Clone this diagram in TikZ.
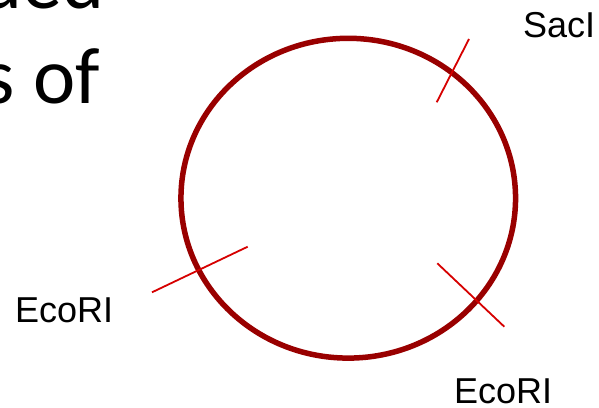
\documentclass[tikz,border=0pt]{standalone}
\usepackage{fontspec}
\setmainfont{Liberation Sans}
\newfontfamily\titlefont{Carlito}
\definecolor{ringred}{RGB}{153,0,0}
\definecolor{cutred}{RGB}{214,0,0}
\begin{document}
\begin{tikzpicture}[x=1pt,y=-1pt,
  ring/.style={draw=ringred,line width=5.5pt},
  cutline/.style={draw=cutred,line width=1.8pt},
  sitelabel/.style={inner sep=0pt,font=\fontsize{36}{43}\selectfont},
  titletext/.style={inner sep=0pt,font=\titlefont\fontsize{80}{96}\selectfont}]
\useasboundingbox (0,0) rectangle (599,407);
\node[titletext,anchor=base east] (t1) at (105,8) {uded};
\node[titletext,anchor=base east] (t2) at (100,103) {s of};
\draw[ring] (348.25,198.2) ellipse [x radius=167.3, y radius=159.9];
\coordinate (sa) at (469,39);
\coordinate (sb) at (436.7,102.3);
\coordinate (ea) at (152,292.3);
\coordinate (eb) at (247.7,246.7);
\coordinate (fa) at (437.3,263.3);
\coordinate (fb) at (504.3,326.7);
\draw[cutline] (sa) -- (sb);
\draw[cutline] (ea) -- (eb);
\draw[cutline] (fa) -- (fb);
\node[sitelabel,anchor=base west] (lsac) at (523,37) {SacI};
\node[sitelabel,anchor=base west] (leco1) at (15,322) {EcoRI};
\node[sitelabel,anchor=base west] (leco2) at (454,403) {EcoRI};
\end{tikzpicture}
\end{document}
